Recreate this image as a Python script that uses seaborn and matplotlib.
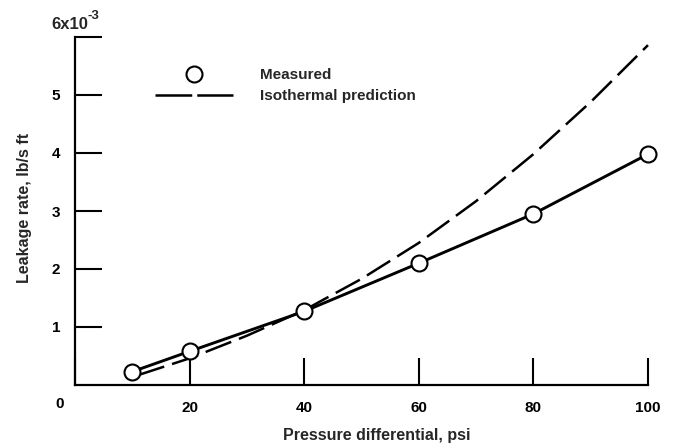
import matplotlib
matplotlib.use("Agg")
import matplotlib.pyplot as plt
import matplotlib.transforms as mtransforms
from matplotlib.lines import Line2D
import seaborn as sns
import pandas as pd

# ---- data (leakage rate in lb/s ft) ----
pressure_measured = [10, 20, 40, 60, 80, 100]
leak_measured = [0.23e-3, 0.58e-3, 1.27e-3, 2.10e-3, 2.95e-3, 3.98e-3]

pressure_iso = [11, 20, 30, 40, 50, 60, 70, 80, 90, 100]
leak_iso = [0.17e-3, 0.46e-3, 0.85e-3, 1.29e-3, 1.83e-3, 2.45e-3, 3.17e-3,
            3.98e-3, 4.88e-3, 5.86e-3]

x_ticks = [0, 20, 40, 60, 80, 100]
x_tick_labels = ["0", "20", "40", "60", "80", "100"]
y_ticks = [1e-3, 2e-3, 3e-3, 4e-3, 5e-3, 6e-3]
y_tick_labels = ["1", "2", "3", "4", "5", ""]

sns.set_theme(style="white")
plt.rcParams["font.family"] = ["Liberation Sans", "DejaVu Sans"]

df_meas = pd.DataFrame({"p": pressure_measured, "q": leak_measured})
df_iso = pd.DataFrame({"p": pressure_iso, "q": leak_iso})

W, H = 676, 446
fig = plt.figure(figsize=(W / 100, H / 100), dpi=100)
ax = fig.add_axes([75 / W, 1 - 385 / H, (648 - 75) / W, (385 - 37) / H])

sns.lineplot(data=df_iso, x="p", y="q", ax=ax, color="black", lw=1.8,
             legend=False, sort=False)
ax.lines[-1].set_dashes((11, 3.3))

sns.lineplot(data=df_meas, x="p", y="q", ax=ax, color="black", lw=2.1,
             marker="o", markersize=11.5, markerfacecolor="white",
             markeredgecolor="black", markeredgewidth=1.5, legend=False,
             sort=False)
for ln in ax.lines:
    ln.set_clip_on(False)

ax.set_xlim(0, 100)
ax.set_ylim(0, 6e-3)

for s in ["top", "right"]:
    ax.spines[s].set_visible(False)
for s in ["left", "bottom"]:
    ax.spines[s].set_linewidth(1.6)
    ax.spines[s].set_color("black")

ax.set_xticks(x_ticks)
ax.set_xticklabels(x_tick_labels)
ax.set_yticks(y_ticks)
ax.set_yticklabels(y_tick_labels)
ax.tick_params(axis="both", which="major", direction="in", length=19.5,
               width=1.5, color="black", labelsize=11, labelcolor="black",
               bottom=True, left=True, top=False, right=False)
ax.tick_params(axis="y", pad=10.5)
ax.tick_params(axis="x", pad=11.5)
for lab in ax.get_xticklabels() + ax.get_yticklabels():
    lab.set_fontweight("bold")

# shift the "0" origin label into the corner
off = mtransforms.ScaledTranslation(-15 / 100, 4 / 100, fig.dpi_scale_trans)
first = ax.get_xticklabels()[0]
first.set_transform(first.get_transform() + off)

# top y label 6x10^-3
ax.annotate("6x10", xy=(0, 6e-3), xycoords="data",
            xytext=(13, 5), textcoords="offset pixels", ha="right",
            va="bottom", fontsize=12, fontweight="bold",
            annotation_clip=False)
ax.annotate("-3", xy=(0, 6e-3), xycoords="data",
            xytext=(13, 15), textcoords="offset pixels", ha="left",
            va="bottom", fontsize=9.5, fontweight="bold",
            annotation_clip=False)

ax.set_xlabel("Pressure differential, psi", fontsize=11.5, fontweight="bold")
ax.set_ylabel("Leakage rate, lb/s ft", fontsize=11.5, fontweight="bold")
ax.xaxis.set_label_coords(0.527, -0.124)
ax.yaxis.set_label_coords(-0.089, 0.51)
ax.xaxis.label.set_va("top")
ax.yaxis.label.set_va("center")

h_meas = Line2D([], [], color="black", linestyle="none", marker="o",
                markersize=11.5, markerfacecolor="white",
                markeredgecolor="black", markeredgewidth=1.5)
h_iso = Line2D([], [], color="black", lw=1.8, dashes=(14.7, 2.0))
leg = ax.legend([h_meas, h_iso], ["Measured", "Isothermal prediction"],
                loc="upper left", bbox_to_anchor=(155 / W, 1 - 68 / H),
                bbox_transform=fig.transFigure, frameon=False,
                prop={"family": "Liberation Sans", "weight": "bold", "size": 11},
                handlelength=5.1, handletextpad=1.75, labelspacing=0.45,
                borderpad=0, borderaxespad=0)

fig.savefig("out.png", dpi=100, facecolor="white")
